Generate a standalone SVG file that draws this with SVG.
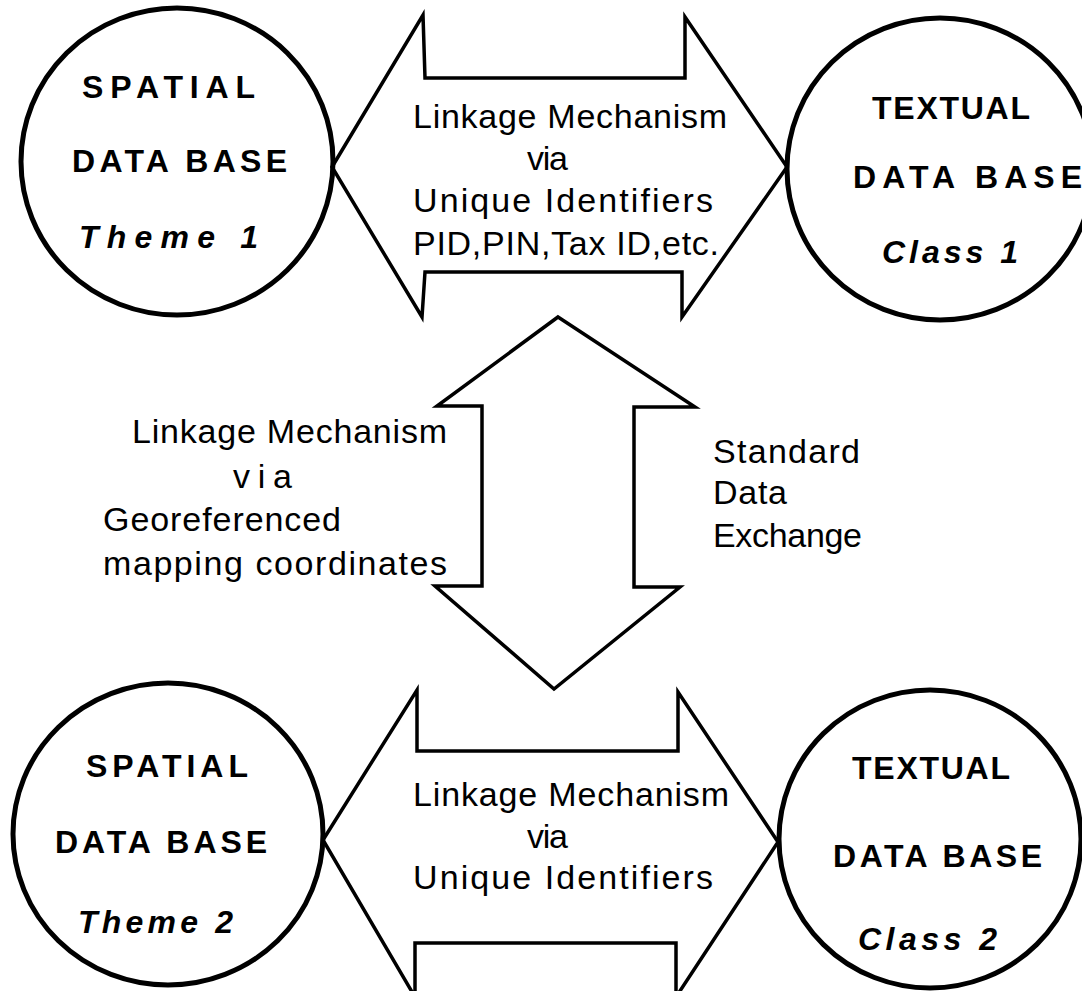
<svg xmlns="http://www.w3.org/2000/svg" width="1082" height="991" viewBox="0 0 1082 991">
<style>
.c{fill:none;stroke:#000;stroke-width:5}
.a{fill:none;stroke:#000;stroke-width:3.5;stroke-linejoin:miter}
.t{font-family:"Liberation Sans",Arial,sans-serif;font-size:34px;fill:#000}
.b{font-family:"Liberation Sans",Arial,sans-serif;font-size:32px;font-weight:bold;fill:#000}
.i{font-family:"Liberation Sans",Arial,sans-serif;font-size:32px;font-weight:bold;font-style:italic;fill:#000}
</style>
<rect width="1082" height="991" fill="#fff"/>
<g id="connectors">
<polygon class="a" points="332,167 423,15 425,78 685,78 685,17 787,167 682,317 682,272 425,272 422,317"/>
<polygon class="a" points="558,317 695,407 634,407 634,587 680,587 554,689 435,586 482,586 482,406 437,406"/>
<polygon class="a" points="323,840 417,690 417,751 678,751 678,692 778,842 676,997 676,943 415,943 415,997"/>
</g>
<g id="spatial1">
<ellipse class="c" cx="177" cy="161.5" rx="156" ry="153.5"/>
<text class="b" x="82" y="98" textLength="173" lengthAdjust="spacing">SPATIAL</text>
<text class="b" x="72" y="172" textLength="215" lengthAdjust="spacing">DATA BASE</text>
<text class="i" x="79" y="248" textLength="179" lengthAdjust="spacing">Theme  1</text>
</g>
<g id="textual1">
<ellipse class="c" cx="940" cy="169" rx="153" ry="151"/>
<text class="b" x="872" y="119" textLength="158" lengthAdjust="spacing">TEXTUAL</text>
<text class="b" x="853" y="188" textLength="229" lengthAdjust="spacing">DATA BASE</text>
<text class="i" x="882" y="263" textLength="136" lengthAdjust="spacing">Class  1</text>
</g>
<g id="spatial2">
<ellipse class="c" cx="168" cy="834" rx="155" ry="151"/>
<text class="b" x="86" y="777" textLength="162" lengthAdjust="spacing">SPATIAL</text>
<text class="b" x="55" y="853" textLength="212" lengthAdjust="spacing">DATA BASE</text>
<text class="i" x="78" y="933" textLength="155" lengthAdjust="spacing">Theme  2</text>
</g>
<g id="textual2">
<ellipse class="c" cx="930" cy="839" rx="151" ry="149"/>
<text class="b" x="852" y="779" textLength="158" lengthAdjust="spacing">TEXTUAL</text>
<text class="b" x="833" y="867" textLength="209" lengthAdjust="spacing">DATA BASE</text>
<text class="i" x="858" y="950" textLength="139" lengthAdjust="spacing">Class  2</text>
</g>
<g id="link-top">
<text class="t" x="413" y="128" textLength="314" lengthAdjust="spacing">Linkage  Mechanism</text>
<text class="t" x="527" y="170" textLength="41" lengthAdjust="spacing">via</text>
<text class="t" x="413" y="212" textLength="300" lengthAdjust="spacing">Unique  Identifiers</text>
<text class="t" x="413" y="255" textLength="306" lengthAdjust="spacing">PID,PIN,Tax ID,etc.</text>
</g>
<g id="link-middle">
<text class="t" x="132" y="443" textLength="315" lengthAdjust="spacing">Linkage  Mechanism</text>
<text class="t" x="233" y="488" textLength="59" lengthAdjust="spacing">via</text>
<text class="t" x="103" y="531" textLength="238" lengthAdjust="spacing">Georeferenced</text>
<text class="t" x="103" y="575" textLength="344" lengthAdjust="spacing">mapping  coordinates</text>
</g>
<g id="exchange">
<text class="t" x="713" y="463" textLength="147" lengthAdjust="spacing">Standard</text>
<text class="t" x="713" y="504" textLength="74" lengthAdjust="spacing">Data</text>
<text class="t" x="713" y="547" textLength="149" lengthAdjust="spacing">Exchange</text>
</g>
<g id="link-bottom">
<text class="t" x="413" y="806" textLength="316" lengthAdjust="spacing">Linkage  Mechanism</text>
<text class="t" x="527" y="848" textLength="41" lengthAdjust="spacing">via</text>
<text class="t" x="413" y="889" textLength="300" lengthAdjust="spacing">Unique  Identifiers</text>
</g>
</svg>
